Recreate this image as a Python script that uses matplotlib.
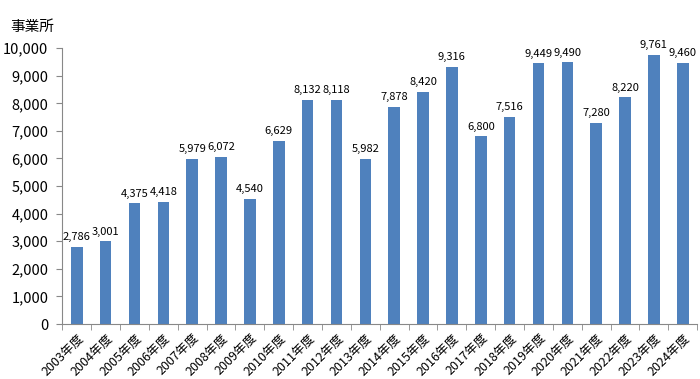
import matplotlib
matplotlib.use("Agg")
import matplotlib.pyplot as plt
import numpy as np

plt.rcParams['font.family'] = ['Noto Sans CJK JP', 'DejaVu Sans']

years = ["2003年度", "2004年度", "2005年度", "2006年度", "2007年度", "2008年度",
         "2009年度", "2010年度", "2011年度", "2012年度", "2013年度", "2014年度",
         "2015年度", "2016年度", "2017年度", "2018年度", "2019年度", "2020年度",
         "2021年度", "2022年度", "2023年度", "2024年度"]
counts = [2786, 3001, 4375, 4418, 5979, 6072, 4540, 6629, 8132, 8118, 5982, 7878,
          8420, 9316, 6800, 7516, 9449, 9490, 7280, 8220, 9761, 9460]
yticks = [0, 1000, 2000, 3000, 4000, 5000, 6000, 7000, 8000, 9000, 10000]
unit_label = "事業所"

fig = plt.figure(figsize=(7, 3.79), dpi=100)
ax = fig.add_axes([0.089, 0.145, 0.907, 0.728])

x = np.arange(len(years))
bars = ax.bar(x, counts, width=0.4, color="#4F81BD", zorder=2)

for xi, v in zip(x, counts):
    ax.text(xi, v + 170, f"{v:,}", ha="center", va="bottom", fontsize=8)

ax.set_xlim(-0.5, len(years) - 0.5)
ax.set_ylim(0, 10000)
ax.set_yticks(yticks)
ax.set_yticklabels([f"{t:,}" for t in yticks], fontsize=10.5)

ax.set_xticks(x)
ax.set_xticklabels(years, rotation=45, ha="right", rotation_mode="anchor", fontsize=9)
ax.tick_params(axis="x", which="major", length=0, pad=5)
ax.set_xticks(np.arange(-0.5, len(years)), minor=True)
ax.tick_params(axis="x", which="minor", length=4, color="#888888", direction="out")
ax.tick_params(axis="y", length=4, color="#888888", direction="out", pad=6)

for s in ["top", "right"]:
    ax.spines[s].set_visible(False)
for s in ["left", "bottom"]:
    ax.spines[s].set_color("#888888")
    ax.spines[s].set_linewidth(0.8)

fig.text(0.015, 0.91, unit_label, fontsize=10.5, ha="left", va="bottom")

fig.savefig("out.png", dpi=100)
